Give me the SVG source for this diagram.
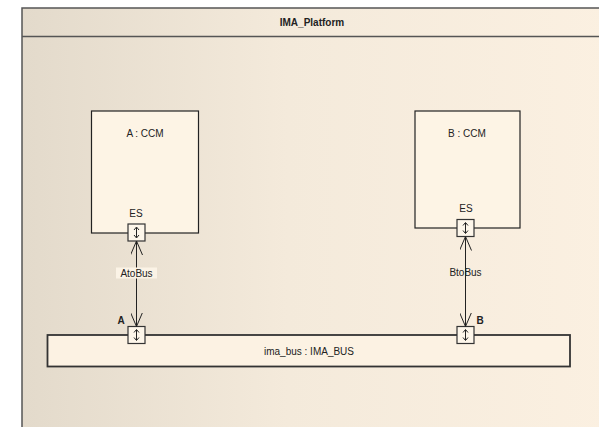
<svg xmlns="http://www.w3.org/2000/svg" width="599" height="427" viewBox="0 0 599 427">
<defs>
<linearGradient id="bg" x1="0" y1="0" x2="1" y2="0">
<stop offset="0" stop-color="#e3dacb"/>
<stop offset="0.45" stop-color="#f4eadb"/>
<stop offset="1" stop-color="#fbf0e1"/>
</linearGradient>
<marker id="arr" viewBox="0 0 14 12" refX="14" refY="6" markerWidth="14" markerHeight="12" markerUnits="userSpaceOnUse" orient="auto-start-reverse">
<path d="M0,0 L14,6 L0,12" fill="none" stroke="#222" stroke-width="1"/>
</marker>
<g id="portsym">
<rect x="-8.5" y="-8.5" width="17" height="17" fill="#fdf6ea" stroke="#333" stroke-width="1.2"/>
<line x1="0" y1="-5" x2="0" y2="5" stroke="#222" stroke-width="1"/>
<path d="M-2.5,-2.5 L0,-5.5 L2.5,-2.5 M-2.5,2.5 L0,5.5 L2.5,2.5" fill="none" stroke="#222" stroke-width="1"/>
</g>
</defs>
<style>
text{font-family:"Liberation Sans",Arial,sans-serif;font-size:10px;fill:#222;text-anchor:middle}
.b{font-weight:bold}
.part{fill:#fdf4e5;stroke:#222;stroke-width:1.2}
.conn{stroke:#222;stroke-width:1;fill:none}
</style>
<rect width="599" height="427" fill="#ffffff"/>
<g id="frame">
<rect x="22" y="8" width="590" height="430" fill="url(#bg)" stroke="#555" stroke-width="1.5"/>
<line x1="22" y1="36.5" x2="612" y2="36.5" stroke="#555" stroke-width="1.5"/>
<text class="b" x="312" y="25.5">IMA_Platform</text>
</g>
<g id="partA">
<rect class="part" x="91.5" y="111" width="107" height="122"/>
<text x="145" y="136.5">A : CCM</text>
<text x="136" y="216.5">ES</text>
<use href="#portsym" x="136.5" y="232.5"/>
</g>
<g id="partB">
<rect class="part" x="415" y="111" width="105" height="117"/>
<text x="467" y="136.5">B : CCM</text>
<text x="466" y="211.5">ES</text>
<use href="#portsym" x="465.5" y="228"/>
</g>
<g id="bus">
<rect x="47.5" y="335" width="522.5" height="31.5" fill="#fcf2e3" stroke="#333" stroke-width="1.8"/>
<text x="309" y="355">ima_bus : IMA_BUS</text>
<use href="#portsym" x="136.5" y="335"/>
<text class="b" x="121" y="323.5">A</text>
<use href="#portsym" x="465.5" y="335"/>
<text class="b" x="480" y="323.5">B</text>
</g>
<g id="connectors">
<line class="conn" x1="136.5" y1="241" x2="136.5" y2="326.5" marker-start="url(#arr)" marker-end="url(#arr)"/>
<rect x="116" y="267.5" width="41" height="11" fill="#fbf3e6"/>
<text x="136.5" y="277">AtoBus</text>
<line class="conn" x1="465.5" y1="236.5" x2="465.5" y2="326.5" marker-start="url(#arr)" marker-end="url(#arr)"/>
<text x="465.5" y="275.5">BtoBus</text>
</g>
</svg>
